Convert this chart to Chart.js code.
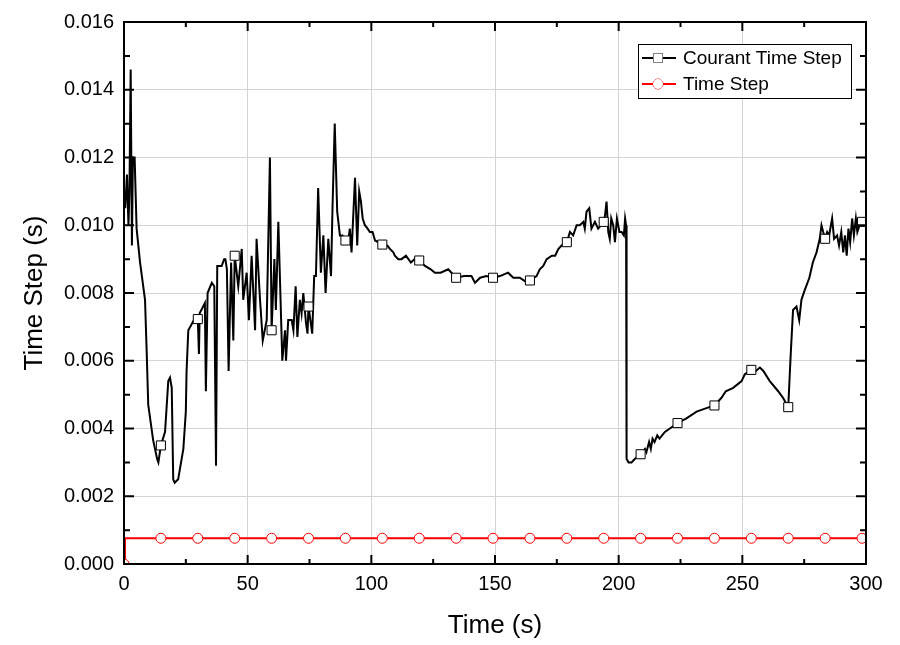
<!DOCTYPE html>
<html>
<head>
<meta charset="utf-8">
<script src="https://cdn.jsdelivr.net/npm/chart.js@4.4.1/dist/chart.umd.min.js"></script>
<style>
html,body{margin:0;padding:0;background:#fff;}
#wrap{width:900px;height:645px;}
</style>
</head>
<body>
<div id="wrap"><canvas id="c"></canvas></div>
<script>
// marker positions (every ~14.92 s)
const markTimes=[14.92,29.84,44.76,59.68,74.6,89.52,104.44,119.36,134.28,149.2,164.12,179.04,193.96,208.88,223.8,238.72,253.64,268.56,283.48,298.4];

const courantTime=[0.5,1.2,1.8,2.2,2.7,3.2,3.6,4.3,5.1,6.5,8.5,9.2,9.8,11.8,13.4,13.9,14.92,16.6,17.9,18.6,19.3,19.9,20.5,21.9,24.0,25.0,25.3,26.0,28.3,29.3,29.84,30.3,30.6,32.7,33.1,33.8,35.5,36.5,37.2,37.7,39.5,40.5,41.0,41.6,42.3,43.3,44.2,44.76,46.2,47.6,48.2,49.6,50.5,51.6,53.0,53.6,55.0,56.1,57.7,59.0,59.68,60.8,61.4,62.4,64.0,65.1,65.5,66.4,67.8,68.5,69.4,70.1,71.1,71.8,72.5,73.6,74.2,74.6,76.1,76.9,77.6,78.5,79.6,80.6,81.5,82.6,83.7,84.3,85.2,86.2,87.3,88.3,89.52,90.6,91.3,92.0,93.4,94.3,95.1,95.8,96.5,97.4,98.5,99.4,100.5,101.5,104.44,106.5,107.5,108.9,109.5,110.9,112.2,114.0,116.0,117.5,119.36,121.7,124.0,125.7,128.0,131.1,134.28,137.5,140.5,141.9,144.0,146.5,149.2,152.0,155.3,157.4,160.0,162.1,164.12,166.8,168.1,169.5,170.9,173.0,174.3,175.6,176.9,179.04,180.3,181.6,183.0,184.3,185.7,186.3,187.0,188.1,189.0,190.4,191.7,193.96,194.5,195.1,195.8,196.4,197.0,197.8,198.5,199.3,200.3,201.2,202.1,202.6,203.0,203.2,204.0,205.2,206.5,208.88,210.6,211.2,212.3,213.0,213.7,214.5,215.6,216.5,218.7,220.7,223.8,227.4,231.5,235.5,238.72,241.5,243.3,246.3,249.7,251.0,253.64,255.5,257.1,258.5,261.1,264.5,266.5,268.56,269.5,270.5,271.9,273.0,273.9,275.3,277.1,278.5,280.0,281.3,282.0,282.7,283.48,284.3,285.1,286.3,287.1,288.3,289.1,290.0,290.8,291.5,292.2,292.9,293.6,294.4,295.1,295.9,296.5,297.4,298.4,299.5];
const courantStep=[0.0105,0.0115,0.0100,0.0110,0.0146,0.0094,0.0120,0.0120,0.0099,0.0089,0.0078,0.0062,0.0047,0.00365,0.0031,0.0030,0.0035,0.0039,0.0054,0.0055,0.0052,0.0025,0.0024,0.0025,0.0034,0.0045,0.0057,0.0069,0.0072,0.0072,0.00723,0.0062,0.0074,0.0077,0.0051,0.0080,0.0083,0.0082,0.0029,0.0088,0.0088,0.0090,0.0090,0.0087,0.0057,0.0089,0.0066,0.0091,0.0082,0.0093,0.0078,0.0086,0.0072,0.0091,0.0069,0.0096,0.0078,0.0066,0.0072,0.0120,0.0069,0.0090,0.0075,0.0101,0.0060,0.0069,0.0060,0.0072,0.0072,0.0069,0.0082,0.0067,0.0078,0.0074,0.0080,0.0071,0.0068,0.0076,0.0068,0.0085,0.0085,0.0111,0.0086,0.0097,0.0080,0.0096,0.0085,0.0105,0.0130,0.0104,0.0097,0.0097,0.00955,0.0095,0.0099,0.0092,0.0114,0.0094,0.0110,0.0107,0.0102,0.0100,0.0099,0.0098,0.0098,0.00955,0.00943,0.0094,0.0093,0.0092,0.0091,0.0090,0.0090,0.0091,0.0089,0.0090,0.00896,0.0088,0.0087,0.0086,0.0086,0.0087,0.00845,0.0085,0.0085,0.0083,0.00845,0.0085,0.00845,0.0085,0.0086,0.00845,0.00845,0.00835,0.00837,0.0085,0.0087,0.0088,0.0090,0.0091,0.0091,0.0093,0.0094,0.0095,0.0098,0.0097,0.0100,0.0100,0.0101,0.0099,0.0104,0.0105,0.0099,0.0101,0.0099,0.0101,0.0103,0.0107,0.0098,0.0096,0.0102,0.0100,0.0095,0.0102,0.0098,0.0098,0.0097,0.0102,0.0100,0.0031,0.0030,0.0030,0.0031,0.00324,0.0034,0.0033,0.0036,0.0034,0.0037,0.0036,0.0038,0.0037,0.0039,0.0040,0.00416,0.0043,0.0045,0.0046,0.00468,0.0049,0.0051,0.0052,0.0054,0.0056,0.00573,0.0057,0.0058,0.0057,0.0054,0.0051,0.0049,0.00463,0.0061,0.0075,0.0076,0.0072,0.0078,0.0081,0.00845,0.0089,0.0092,0.0096,0.0100,0.0098,0.0096,0.0098,0.0097,0.0102,0.0096,0.0097,0.0094,0.0098,0.0092,0.0097,0.0091,0.0099,0.0095,0.0102,0.0097,0.0102,0.0098,0.0100,0.0101,0.0101];

const timeStepTime=[0,0.4].concat(markTimes,[300]);
const timeStepValue=timeStepTime.map((t,i)=>i===0?0:0.00076);

const FONT="Arial, 'Liberation Sans', sans-serif";

function isMark(t){return t===0||markTimes.some(m=>Math.abs(m-t)<0.001);}
function toXY(ts,vs){return ts.map((t,i)=>({x:t,y:vs[i]}));}

const frameTicks={
  id:'frameTicks',
  afterDraw(chart){
    const {ctx,chartArea:a,scales}=chart;
    ctx.save();
    ctx.strokeStyle='#000';
    ctx.lineWidth=2;
    ctx.strokeRect(a.left,a.top,a.right-a.left,a.bottom-a.top);
    const xs=scales.x, ys=scales.y;
    const xt=xs.ticks.map(t=>t.value), yt=ys.ticks.map(t=>t.value);
    ctx.beginPath();
    for(let i=0;i<xt.length;i++){
      const add=(v,len)=>{const p=xs.getPixelForValue(v);
        ctx.moveTo(p,a.bottom);ctx.lineTo(p,a.bottom-len);
        ctx.moveTo(p,a.top);ctx.lineTo(p,a.top+len);};
      add(xt[i],9);
      if(i<xt.length-1)add((xt[i]+xt[i+1])/2,5);
    }
    for(let i=0;i<yt.length;i++){
      const add=(v,len)=>{const p=ys.getPixelForValue(v);
        ctx.moveTo(a.left,p);ctx.lineTo(a.left+len,p);
        ctx.moveTo(a.right,p);ctx.lineTo(a.right-len,p);};
      add(yt[i],10);
      if(i<yt.length-1)add((yt[i]+yt[i+1])/2,6);
    }
    ctx.stroke();
    ctx.restore();
  }
};

const boxLegend={
  id:'boxLegend',
  afterDraw(chart){
    const {ctx,chartArea:a}=chart;
    const ds=chart.data.datasets;
    const w=213,h=54,x0=a.right-228,y0=a.top+22;
    ctx.save();
    ctx.fillStyle='#fff';
    ctx.fillRect(x0,y0,w,h);
    ctx.strokeStyle='#000';ctx.lineWidth=1;
    ctx.strokeRect(x0+0.5,y0+0.5,w,h);
    ctx.font='19px '+FONT;
    ctx.textBaseline='middle';
    ds.forEach((d,i)=>{
      const cy=y0+14+i*26;
      ctx.strokeStyle=d.borderColor;ctx.lineWidth=2;
      ctx.beginPath();ctx.moveTo(x0+4,cy);ctx.lineTo(x0+38,cy);ctx.stroke();
      ctx.fillStyle='#fff';ctx.strokeStyle=d.pointBorderColor;ctx.lineWidth=1;
      Chart.helpers.drawPoint(ctx,{pointStyle:d.pointStyle,radius:d.legendRadius,borderWidth:1},x0+20,cy);
      ctx.fill();
      ctx.fillStyle='#000';
      ctx.fillText(d.label,x0+45,cy+1);
    });
    ctx.restore();
  }
};

new Chart(document.getElementById('c'),{
  type:'line',
  data:{datasets:[
    {label:'Courant Time Step',data:toXY(courantTime,courantStep),borderColor:'#000',borderWidth:2,
     pointStyle:'rect',legendRadius:6.4,pointBackgroundColor:'#fff',pointBorderColor:'#000',pointBorderWidth:1,
     pointRadius:c=>isMark(c.raw.x)&&c.raw.x>0?6.4:0,tension:0},
    {label:'Time Step',data:toXY(timeStepTime,timeStepValue),borderColor:'#ff0000',borderWidth:2,
     pointStyle:'circle',legendRadius:5,pointBackgroundColor:'#fff',pointBorderColor:'#ff0000',pointBorderWidth:1,
     pointRadius:c=>isMark(c.raw.x)?5:0,tension:0}
  ]},
  options:{
    responsive:true,maintainAspectRatio:false,animation:false,
    layout:{padding:{left:0,right:34,top:20,bottom:0}},
    plugins:{legend:{display:false},tooltip:{enabled:false}},
    elements:{point:{hoverRadius:0}},
    scales:{
      x:{type:'linear',min:0,max:300,
         ticks:{stepSize:50,color:'#000',font:{family:FONT,size:20},padding:8,maxRotation:0},
         grid:{color:'#d4d4d4',lineWidth:1,drawTicks:false},border:{display:false},
         title:{display:true,text:'Time (s)',color:'#000',font:{family:FONT,size:26},padding:{bottom:4}},
         afterFit(s){s.height=81;}},
      y:{min:0,max:0.016,
         ticks:{stepSize:0.002,color:'#000',font:{family:FONT,size:20},padding:10,
                callback:v=>v.toFixed(3)},
         grid:{color:'#d4d4d4',lineWidth:1,drawTicks:false},border:{display:false},
         title:{display:true,text:'Time Step (s)',color:'#000',font:{family:FONT,size:26},padding:{top:19}},
         afterFit(s){s.width=124;}}
    }
  },
  plugins:[frameTicks,boxLegend]
});
</script>
</body>
</html>
